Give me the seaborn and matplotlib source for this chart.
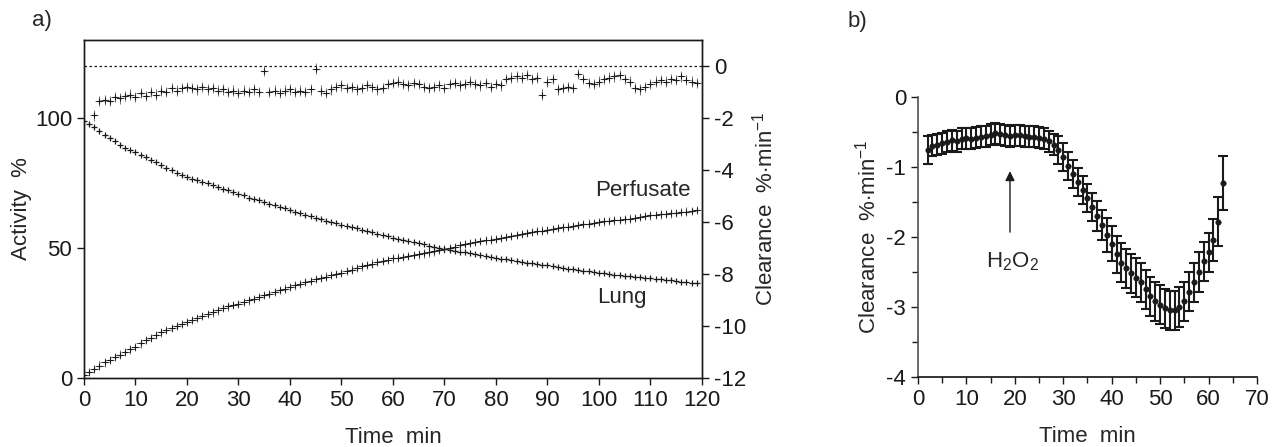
import numpy as np
import matplotlib
matplotlib.use("Agg")
import matplotlib.pyplot as plt
from matplotlib.ticker import MultipleLocator
import seaborn as sns

# ---- panel a: activity (%) sampled every minute ---------------------------
lung = [99.0, 97.8, 96.6, 95.0, 93.6, 92.2, 91.0, 89.6, 88.6, 87.8,
        86.9, 85.9, 85.1, 84.0, 83.0, 81.8, 80.6, 79.9, 79.0, 78.0,
        77.3, 76.7, 76.0, 75.4, 74.8, 74.3, 73.6, 72.8, 72.2, 71.5,
        70.8, 70.2, 69.4, 68.9, 68.3, 67.6, 67.0, 66.4, 65.8, 65.3,
        64.6, 64.0, 63.4, 62.8, 62.2, 61.6, 61.0, 60.5, 60.0, 59.5,
        59.0, 58.6, 58.1, 57.5, 57.0, 56.5, 56.0, 55.5, 55.0, 54.5,
        54.0, 53.6, 53.1, 52.6, 52.2, 51.8, 51.4, 50.9, 50.5, 50.1,
        49.7, 49.4, 49.0, 48.6, 48.3, 47.9, 47.6, 47.3, 47.0, 46.6,
        46.3, 45.9, 45.6, 45.3, 45.0, 44.7, 44.4, 44.2, 43.9, 43.6,
        43.3, 43.0, 42.7, 42.4, 42.1, 41.9, 41.6, 41.3, 41.0, 40.8,
        40.5, 40.3, 40.0, 39.7, 39.5, 39.3, 39.1, 38.9, 38.7, 38.5,
        38.3, 38.1, 37.9, 37.7, 37.5, 37.3, 37.1, 36.9, 36.7, 36.5]
perfusate = [1.0, 2.2, 3.5, 4.8, 6.0, 7.0, 8.0, 9.0, 10.0, 11.0,
             12.0, 13.3, 14.5, 15.5, 16.5, 17.5, 18.5, 19.2, 20.0, 20.8,
             21.5, 22.2, 23.0, 23.8, 24.5, 25.2, 26.0, 26.8, 27.5, 28.0,
             28.5, 29.2, 29.8, 30.5, 31.2, 31.8, 32.4, 33.1, 33.8, 34.4,
             35.0, 35.6, 36.2, 36.8, 37.4, 38.0, 38.5, 39.0, 39.5, 40.0,
             40.5, 41.1, 41.7, 42.3, 42.9, 43.5, 44.0, 44.5, 45.0, 45.5,
             46.0, 46.3, 46.6, 46.9, 47.2, 47.5, 47.9, 48.3, 48.7, 49.1,
             49.5, 50.0, 50.5, 51.0, 51.5, 52.0, 52.3, 52.6, 52.9, 53.2,
             53.5, 53.9, 54.3, 54.7, 55.1, 55.5, 55.8, 56.1, 56.4, 56.7,
             57.0, 57.3, 57.6, 57.9, 58.2, 58.5, 58.8, 59.1, 59.4, 59.7,
             60.0, 60.2, 60.4, 60.6, 60.8, 61.0, 61.3, 61.6, 61.9, 62.2,
             62.5, 62.7, 62.9, 63.1, 63.3, 63.5, 63.8, 64.0, 64.2, 64.5]
activity_time = list(range(len(lung)))

# clearance (%/min), minutes 2..119
clear_time = list(range(2, 120))
clearance = [-1.9,
             -1.35, -1.3, -1.35,
             -1.2, -1.25, -1.15, -1.1, -1.2,
             -1.05, -1.15, -1.0, -1.1, -0.95,
             -1.0, -0.85, -0.95, -0.85, -0.8,
             -0.85, -0.9, -0.8, -0.9, -0.85,
             -0.95, -0.9, -1.0, -0.95, -1.05,
             -0.95, -1.0, -0.9, -1.0, -0.2,
             -1.0, -0.95, -1.05, -0.95, -0.9,
             -1.0, -0.95, -1.0, -0.9, -0.1,
             -0.95, -1.05, -0.9, -0.8, -0.75,
             -0.85, -0.8, -0.9, -0.85, -0.75,
             -0.8, -0.9, -0.85, -0.7, -0.65,
             -0.6, -0.7, -0.75, -0.65, -0.7,
             -0.8, -0.85, -0.8, -0.75, -0.85,
             -0.7, -0.65, -0.75, -0.7, -0.6,
             -0.7, -0.75, -0.65, -0.8, -0.7,
             -0.75, -0.5, -0.45, -0.4, -0.45,
             -0.35, -0.5, -0.45, -1.1, -0.6,
             -0.5, -0.9, -0.85, -0.8, -0.85,
             -0.3, -0.5, -0.65, -0.7, -0.6,
             -0.5, -0.45, -0.4, -0.35, -0.5,
             -0.6, -0.85, -0.9, -0.8, -0.7,
             -0.6, -0.55, -0.6, -0.5, -0.55,
             -0.4, -0.55, -0.6, -0.65]

# ---- panel b: clearance after H2O2, mean and SE -----------------------------
b_time = list(range(2, 64))
b_mean = [-0.76, -0.70, -0.68, -0.66, -0.64, -0.62, -0.63, -0.60, -0.59, -0.60,
          -0.58, -0.57, -0.56, -0.54, -0.52, -0.53, -0.55, -0.56, -0.55, -0.55,
          -0.56, -0.57, -0.57, -0.58, -0.60, -0.63, -0.68, -0.76, -0.86, -0.98,
          -1.10, -1.22, -1.33, -1.45, -1.57, -1.70, -1.83, -1.97, -2.10, -2.25,
          -2.37, -2.45, -2.52, -2.58, -2.65, -2.75, -2.85, -2.92, -2.97, -3.02,
          -3.05, -3.05, -3.00, -2.92, -2.78, -2.65, -2.50, -2.35, -2.22, -2.05,
          -1.78, -1.23]
b_se = [0.20, 0.15, 0.15, 0.15, 0.15, 0.15, 0.15, 0.15, 0.15, 0.15,
        0.15, 0.15, 0.15, 0.15, 0.15, 0.15, 0.15, 0.15, 0.15, 0.15,
        0.15, 0.15, 0.15, 0.15, 0.15, 0.15, 0.15, 0.20, 0.20, 0.20,
        0.20, 0.20, 0.20, 0.20, 0.20, 0.22, 0.22, 0.24, 0.25, 0.26,
        0.28, 0.28, 0.28, 0.28, 0.28, 0.28, 0.28, 0.28, 0.28, 0.28,
        0.28, 0.28, 0.28, 0.28, 0.28, 0.28, 0.28, 0.28, 0.28, 0.30,
        0.35, 0.38]
h2o2_time = 19

sns.set_theme(style="ticks")
plt.rcParams["font.family"] = ["Liberation Sans", "DejaVu Sans"]
plt.rcParams["mathtext.fontset"] = "custom"
plt.rcParams["mathtext.rm"] = "Liberation Sans"
plt.rcParams["mathtext.it"] = "Liberation Sans"
plt.rcParams["axes.unicode_minus"] = False
FS = 16

fig = plt.figure(figsize=(12.76, 4.47), dpi=100)
ax = fig.add_axes([0.0658, 0.1544, 0.4843, 0.7562])
ax2 = ax.twinx()

# activity curves
ax.errorbar(activity_time, lung, xerr=0.4, yerr=0.5, fmt="none",
            ecolor="k", elinewidth=0.7, alpha=0.85)
sns.scatterplot(x=activity_time, y=lung, marker="+", s=16, color="k",
                linewidth=0.9, ax=ax)
ax.errorbar(activity_time, perfusate, xerr=0.9, yerr=1.6, fmt="none",
            ecolor="k", elinewidth=0.6, alpha=0.75)
sns.scatterplot(x=activity_time, y=perfusate, marker="+", s=16, color="k",
                linewidth=0.8, ax=ax)

# clearance on the right axis
ax2.axhline(0, color="k", ls=(0, (2, 2)), lw=0.9)
ax2.errorbar(clear_time, clearance, xerr=0.8, yerr=0.2, fmt="none",
             ecolor="k", elinewidth=0.6, alpha=0.7)
sns.scatterplot(x=clear_time, y=clearance, marker="+", s=18, color="k",
                linewidth=0.8, ax=ax2)

ax.set_xlim(0, 120)
ax.set_ylim(0, 130)
ax2.set_ylim(-12, 1)
ax.set_xticks(range(0, 121, 10))
ax.set_yticks([0, 50, 100])
ax2.set_yticks(range(-12, 1, 2))
for a in (ax, ax2):
    a.tick_params(direction="out", length=5, width=1, labelsize=FS, colors="k")
    for s in a.spines.values():
        s.set_linewidth(1.0)
        s.set_color("k")
ax.set_xlabel("Time  min", fontsize=FS, labelpad=12)
ax.set_ylabel("Activity  %", fontsize=FS, labelpad=2)
ax2.set_ylabel("Clearance  %$\\cdot$min$^{-1}$", fontsize=FS, labelpad=4)
ax.text(108.5, 72, "Perfusate", fontsize=FS, ha="center", va="center")
ax.text(104.5, 31, "Lung", fontsize=FS, ha="center", va="center")

# ---- panel b --------------------------------------------------------------
bx = fig.add_axes([0.7194, 0.1566, 0.2657, 0.6264])
bx.errorbar(b_time, b_mean, yerr=b_se, fmt="none", ecolor="k",
            elinewidth=1.5, capsize=3.5, capthick=1.5)
sns.scatterplot(x=b_time, y=b_mean, marker="o", s=16, color="k",
                edgecolor="k", ax=bx)
bx.set_xlim(0, 70)
bx.set_ylim(-4, 0)
bx.xaxis.set_major_locator(MultipleLocator(10))
bx.xaxis.set_minor_locator(MultipleLocator(5))
bx.yaxis.set_major_locator(MultipleLocator(1))
bx.yaxis.set_minor_locator(MultipleLocator(0.5))
bx.tick_params(which="both", direction="out", width=1, labelsize=FS, colors="k")
bx.tick_params(which="major", length=5)
bx.tick_params(which="minor", length=4)
sns.despine(ax=bx)
bx.spines["left"].set_color("#555555")
bx.spines["bottom"].set_color("k")
bx.set_xlabel("Time  min", fontsize=FS, labelpad=12)
bx.set_ylabel("Clearance  %$\\cdot$min$^{-1}$", fontsize=FS, labelpad=4)
bx.annotate("", xy=(h2o2_time, -1.02), xytext=(h2o2_time, -1.97),
            arrowprops=dict(arrowstyle="-|>", color="k", lw=1.0,
                            mutation_scale=14))
bx.text(h2o2_time + 0.5, -2.36, "H$_2$O$_2$", fontsize=FS, ha="center", va="center")

fig.text(0.033, 0.955, "a)", fontsize=FS, ha="center", va="center")
fig.text(0.672, 0.951, "b)", fontsize=FS, ha="center", va="center")

fig.savefig("out.png", dpi=100)
